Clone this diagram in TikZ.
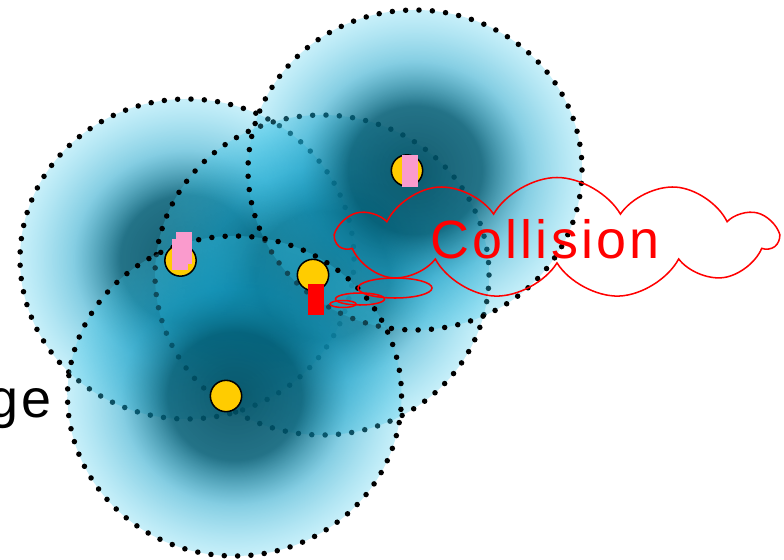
\documentclass[tikz,border=0pt]{standalone}
\usepackage{fontspec}
\setmainfont{Liberation Sans}
\newfontfamily\lblfont[LetterSpace=6]{Liberation Sans}
\usetikzlibrary{shapes.symbols,shapes.geometric,fadings}
\definecolor{rngDark}{RGB}{0,78,98}
\definecolor{rngMidA}{RGB}{0,92,116}
\definecolor{rngMidB}{RGB}{20,160,200}
\definecolor{rngEdge}{RGB}{60,200,235}
\definecolor{senYellow}{RGB}{255,204,0}
\definecolor{tagPink}{RGB}{250,155,205}
\pgfdeclareradialshading{rngShade}{\pgfpointorigin}{color(0bp)=(rngDark); color(10bp)=(rngMidA); color(17bp)=(rngMidB); color(25bp)=(rngEdge); color(50bp)=(rngEdge)}
\pgfdeclareradialshading{rngFadeShade}{\pgfpointorigin}{color(0bp)=(black!8); color(10bp)=(black!14); color(17bp)=(black!48); color(25bp)=(black!72); color(50bp)=(black!72)}
\pgfdeclarefading{rngFade}{\pgfuseshading{rngFadeShade}}
\begin{document}
\begin{tikzpicture}[x=0.03cm,y=-0.03cm,
    rngFill/.style={shading=rngShade, path fading=rngFade},
    rngDots/.style={draw=black, line width=4.7pt, line cap=round, dash pattern=on 0pt off 11.4pt},
    senNode/.style={circle, fill=senYellow, draw=black, line width=1.3pt, minimum size=0.94cm, inner sep=0pt},
    senTag/.style={rectangle, fill=#1, minimum width=0.48cm, minimum height=0.95cm, inner sep=0pt},
    colCloud/.style={cloud, draw=red, line width=1.3pt, cloud puffs=11, cloud puff arc=120, aspect=3.6, minimum width=13.2cm, minimum height=3.63cm, inner sep=0pt},
    colBub/.style={ellipse, draw=red, line width=1.3pt, inner sep=0pt},
    lblText/.style={font=\lblfont\fontsize{46}{50}\selectfont, inner sep=0pt},
]
\useasboundingbox (0,0) rectangle (784,559);
% Range circles
\coordinate (r1) at (187,259);
\coordinate (r2) at (322,275);
\coordinate (r3) at (415,170);
\coordinate (r4) at (234.5,396);
\foreach \c in {r1,r2,r3,r4} {
  \shade[rngFill] (\c) ellipse [x radius=167, y radius=160];
  \draw[rngDots] (\c) ellipse [x radius=167, y radius=160];
}
% Sensors
\node[senNode] (s1) at (180.5,260.5) {};
\node[senNode] (s2) at (313,275) {};
\node[senNode] (s3) at (407,170.5) {};
\node[senNode] (s4) at (226,396) {};
\node[senTag=tagPink] (t1a) at (184,248) {};
\node[senTag=tagPink] (t1b) at (180,254.5) {};
\node[senTag=tagPink] (t3) at (409.5,171) {};
\node[senTag=red] (t2) at (316,299.5) {};
% Collision
\node[colCloud] (cloud) at (557,238) {};
\node[colBub, minimum width=2.22cm, minimum height=0.6cm] (bub1) at (395,288) {};
\node[colBub, minimum width=1.47cm, minimum height=0.36cm] (bub2) at (360,299) {};
\node[colBub, minimum width=0.78cm, minimum height=0.21cm] (bub3) at (343,304) {};
\node[lblText, text=red, anchor=base] (coltxt) at (545,258) {Collision};
\node[lblText, anchor=base east] (rngtxt) at (52,417) {Range};
\end{tikzpicture}
\end{document}
